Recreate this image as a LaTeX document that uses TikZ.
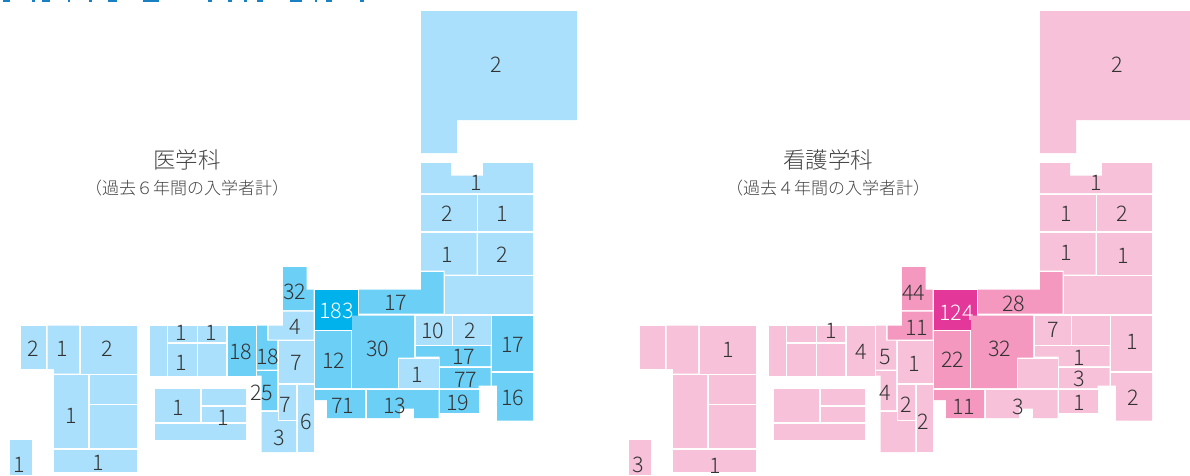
\documentclass[tikz,border=0pt]{standalone}
\usepackage{fontspec}
\setmainfont{Noto Sans CJK JP Light}
\definecolor{inkc}{HTML}{333333}
\definecolor{titlec}{HTML}{444444}
\definecolor{headc}{HTML}{1A80C4}
\definecolor{bluea}{HTML}{AAE0FB}
\definecolor{blueb}{HTML}{6BCFF6}
\definecolor{bluec}{HTML}{00B2EC}
\definecolor{pinka}{HTML}{F7C1DA}
\definecolor{pinkb}{HTML}{F498C0}
\definecolor{pinkc}{HTML}{E4379A}
\tikzset{
  numlab/.style={inner sep=0pt,text=inkc,xshift=0.5pt,yshift=-0.6pt,font=\fontsize{21.5}{22}\selectfont},
  numwhite/.style={numlab,text=white},
  headlab/.style={inner sep=0pt,text=titlec,font=\fontsize{22.5}{24}\selectfont},
  sublab/.style={inner sep=0pt,text=titlec,font=\fontsize{17}{18}\selectfont},
  sliver/.style={fill=headc,draw=none}
}
\newcommand{\RG}[2]{\fill[basef,#1/.try] #2;}
\newcommand{\LB}[4][numlab]{\node[#1] (#2) at (#3) {#4};}
\newcommand{\jmap}{%
  % Hokkaido / Tohoku
  \RG{hok}{(421,11)--(577,11)--(577,120)--(457,120)--(457,153)--(421,153)--cycle}
  \RG{aom}{(421,163)--(451,163)--(451,175.5)--(483,175.5)--(483,163)--(533,163)--(533,193)--(421,193)--cycle}
  \RG{aki}{(421,195)--(476.5,195)--(476.5,231)--(421,231)--cycle}
  \RG{iwa}{(478,195)--(533,195)--(533,231)--(478,231)--cycle}
  \RG{yam}{(421,233)--(476.5,233)--(476.5,274.5)--(444.5,274.5)--(444.5,270.5)--(421,270.5)--cycle}
  \RG{miy}{(478,233)--(533,233)--(533,274.5)--(478,274.5)--cycle}
  \RG{fuk}{(445,276)--(533,276)--(533,313.5)--(445,313.5)--cycle}
  % Hokuriku
  \RG{nii}{(421,272)--(443.5,272)--(443.5,313.5)--(359,313.5)--(359,289.5)--(421,289.5)--cycle}
  \RG{toy}{(315,289.5)--(357.5,289.5)--(357.5,329.5)--(315,329.5)--cycle}
  \RG{ish}{(283,267)--(306.5,267)--(306.5,289.5)--(313.5,289.5)--(313.5,310)--(283,310)--cycle}
  \RG{fkui}{(283,311.5)--(313.5,311.5)--(313.5,339.5)--(268.5,339.5)--(268.5,325.5)--(283,325.5)--cycle}
  % Kinki
  \RG{kyo}{(257,325.5)--(267,325.5)--(267,340.5)--(277,340.5)--(277,369.5)--(257,369.5)--cycle}
  \RG{osa}{(257,371)--(277,371)--(277,410)--(261.5,410)--(261.5,375.5)--(257,375.5)--cycle}
  \RG{wak}{(261.5,412)--(278,412)--(278,421)--(296,421)--(296,452)--(261.5,452)--cycle}
  \RG{shi}{(278.5,341)--(313.5,341)--(313.5,383)--(278.5,383)--cycle}
  \RG{nar}{(279,385)--(296,385)--(296,419.5)--(279,419.5)--cycle}
  \RG{mie}{(298,385)--(313.5,385)--(313.5,452)--(298,452)--cycle}
  % Chubu / Kanto
  \RG{gif}{(315,331)--(350.5,331)--(350.5,388)--(315,388)--cycle}
  \RG{nag}{(352,315.5)--(414,315.5)--(414,357.5)--(398,357.5)--(398,388)--(352,388)--cycle}
  \RG{yma}{(399,359)--(438.5,359)--(438.5,388)--(399,388)--cycle}
  \RG{gun}{(416,315.5)--(451.5,315.5)--(451.5,344.5)--(416,344.5)--cycle}
  \RG{toc}{(453,315.5)--(490.5,315.5)--(490.5,344.5)--(453,344.5)--cycle}
  \RG{sai}{(416,346)--(490.5,346)--(490.5,366)--(439.5,366)--(439.5,356.5)--(416,356.5)--cycle}
  \RG{tok}{(440,368)--(490.5,368)--(490.5,385.5)--(478.5,385.5)--(478.5,388)--(440,388)--cycle}
  \RG{iba}{(492,315.5)--(533,315.5)--(533,370.5)--(492,370.5)--cycle}
  \RG{chi}{(492,373)--(533,373)--(533,420.5)--(497,420.5)--(497,385.5)--(492,385.5)--cycle}
  \RG{kan}{(440,390)--(479,390)--(479,412.5)--(440,412.5)--cycle}
  \RG{shz}{(367,390)--(438.5,390)--(438.5,418)--(414,418)--(414,408.5)--(400,408.5)--(400,418)--(367,418)--cycle}
  \RG{aic}{(315,390)--(365,390)--(365,418)--(327,418)--(327,400)--(315,400)--cycle}
  % Kyushu
  \RG{nag2}{(21,325.5)--(45.5,325.5)--(45.5,369)--(21,369)--cycle}
  \RG{sag}{(47.5,325.5)--(79,325.5)--(79,373.5)--(54,373.5)--(54,369)--(47.5,369)--cycle}
  \RG{fko}{(80.5,325.5)--(137,325.5)--(137,373.5)--(80.5,373.5)--cycle}
  \RG{kum}{(54,375)--(88,375)--(88,448)--(54,448)--cycle}
  \RG{oit}{(89.5,375)--(137,375)--(137,403.5)--(89.5,403.5)--cycle}
  \RG{miz}{(89.5,405)--(137,405)--(137,448)--(89.5,448)--cycle}
  \RG{kag}{(54,449.5)--(137,449.5)--(137,471.5)--(54,471.5)--cycle}
  \RG{oki}{(10,440)--(32,440)--(32,475)--(10,475)--cycle}
  % Shikoku
  \RG{ehi}{(155,389)--(200,389)--(200,421.5)--(155,421.5)--cycle}
  \RG{kaw}{(201.5,389)--(246,389)--(246,405)--(201.5,405)--cycle}
  \RG{tks}{(201.5,406.5)--(246,406.5)--(246,421.5)--(201.5,421.5)--cycle}
  \RG{koc}{(155,423.5)--(245.5,423.5)--(245.5,440)--(155,440)--cycle}
  % Chugoku
  \RG{yag}{(150,325.5)--(166.5,325.5)--(166.5,375.5)--(150,375.5)--cycle}
  \RG{shm}{(168,325.5)--(196.5,325.5)--(196.5,342)--(168,342)--cycle}
  \RG{tot}{(198,325.5)--(226,325.5)--(226,342)--(198,342)--cycle}
  \RG{hir}{(168,343.5)--(196.5,343.5)--(196.5,376)--(168,376)--cycle}
  \RG{oka}{(198,343.5)--(226,343.5)--(226,376)--(198,376)--cycle}
  \RG{hyo}{(227.5,325.5)--(255.5,325.5)--(255.5,376)--(227.5,376)--cycle}
}
\begin{document}
\begin{tikzpicture}[x=1pt,y=-1pt]
\useasboundingbox (0,0) rectangle (1190,475);
% clipped heading at the very top edge
\foreach \a/\b in {3/10,32/35,42/50,68/70,89/92,108/117,143/159,208/212,228/232,244/247,257/263,290/302,315/317,326/332,360/364}
  \fill[sliver] (\a,0) rectangle (\b,1.6);
% left map
\begin{scope}[basef/.style={fill=bluea},
  midf/.style={fill=blueb},topf/.style={fill=bluec},
  nii/.style={midf},toy/.style={topf},ish/.style={midf},kyo/.style={midf},osa/.style={midf},
  gif/.style={midf},nag/.style={midf},sai/.style={midf},tok/.style={midf},iba/.style={midf},
  chi/.style={midf},kan/.style={midf},shz/.style={midf},aic/.style={midf},hyo/.style={midf}]
\jmap
\end{scope}
% right map
\begin{scope}[xshift=619pt,basef/.style={fill=pinka},
  midf/.style={fill=pinkb},topf/.style={fill=pinkc},
  nii/.style={midf},toy/.style={topf},ish/.style={midf},fkui/.style={midf},
  gif/.style={midf},nag/.style={midf},aic/.style={midf}]
\jmap
\end{scope}
% left labels
\LB{la1}{496,64}{2}\LB{la2}{476,182}{1}\LB{la3}{447,213}{2}\LB{la4}{502,213}{1}
\LB{la5}{447,254}{1}\LB{la6}{502,254}{2}\LB{la7}{395,302}{17}
\LB[numwhite]{la8}{336,310}{183}\LB{la9}{294,291}{32}\LB{la10}{295,326}{4}
\LB{la11}{296,362}{7}\LB{la12}{267,356}{18}\LB{la13}{261,392}{25}\LB{la14}{285,404}{7}
\LB{la15}{306,421}{6}\LB{la16}{279,437}{3}\LB{la17}{333,360}{12}\LB{la18}{377,348}{30}
\LB{la19}{432,330}{10}\LB{la20}{470,330}{2}\LB{la21}{463,356}{17}\LB{la22}{512,344}{17}
\LB{la23}{417,374}{1}\LB{la24}{465,379}{77}\LB{la25}{457,402}{19}\LB{la26}{512,397}{16}
\LB{la27}{342,405}{71}\LB{la28}{394,405}{13}\LB{la29}{240,351}{18}\LB{la30}{181,332}{1}
\LB{la31}{211,332}{1}\LB{la32}{181,362}{1}\LB{la33}{178,407}{1}\LB{la34}{223,417}{1}
\LB{la35}{33,348}{2}\LB{la36}{62,348}{1}\LB{la37}{107,348}{2}\LB{la38}{71,415}{1}
\LB{la39}{98,462}{1}\LB{la40}{19,464}{1}
% right labels
\LB{lb1}{1117,64}{2}\LB{lb2}{1096,182}{1}\LB{lb3}{1066,213}{1}\LB{lb4}{1122,213}{2}
\LB{lb5}{1066,252}{1}\LB{lb6}{1123,255}{1}\LB{lb7}{913,292}{44}
\LB[numwhite]{lb8}{956,312}{124}\LB{lb9}{1013,303}{28}\LB{lb10}{916,327}{11}
\LB{lb11}{914,363}{1}\LB{lb12}{952,359}{22}\LB{lb13}{999,348}{32}\LB{lb14}{1053,329}{7}
\LB{lb15}{1079,357}{1}\LB{lb16}{1132,341}{1}\LB{lb17}{1079,378}{3}\LB{lb18}{1133,397}{2}
\LB{lb19}{1079,402}{1}\LB{lb20}{1018,406}{3}\LB{lb21}{963,406}{11}\LB{lb22}{906,404}{2}
\LB{lb23}{923,421}{2}\LB{lb24}{728,349}{1}\LB{lb25}{831,330}{1}\LB{lb26}{861,351}{4}
\LB{lb27}{885,356}{5}\LB{lb28}{885,392}{4}\LB{lb29}{638,464}{3}\LB{lb30}{715,465}{1}
% headings
\node[headlab] (ta) at (187,160) {医学科};
\node[sublab] (sa) at (187,188) {（過去６年間の入学者計）};
\node[headlab] (tb) at (828,160) {看護学科};
\node[sublab] (sb) at (828,188) {（過去４年間の入学者計）};
\end{tikzpicture}
\end{document}
